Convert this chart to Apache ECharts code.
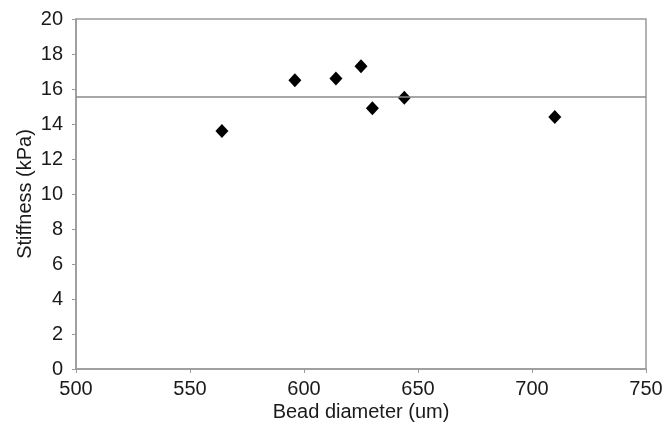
<!DOCTYPE html>
<html>
<head>
<meta charset="utf-8">
<script src="https://cdn.jsdelivr.net/npm/echarts@6/dist/echarts.min.js"></script>
<style>
html,body{margin:0;padding:0;background:#fff;}
#chart{width:664px;height:424px;}
</style>
</head>
<body>
<div id="chart"></div>
<script>
const beadDiameter = [564, 596, 614, 625, 630, 644, 710];
const stiffness = [13.6, 16.5, 16.6, 17.3, 14.9, 15.5, 14.4];
const meanStiffness = 15.55;
const xTicks = [500, 550, 600, 650, 700, 750];
const yTicks = [0, 2, 4, 6, 8, 10, 12, 14, 16, 18, 20];

const font = '"Liberation Sans", Arial, sans-serif';
const chart = echarts.init(document.getElementById('chart'), null, {renderer: 'canvas'});
chart.setOption({
  animation: false,
  backgroundColor: '#fff',
  grid: {left: 76, right: 18, top: 19, bottom: 55, containLabel: false, outerBoundsMode: 'none',
         show: true, borderColor: '#9a9a9a', borderWidth: 1.5},
  xAxis: {
    type: 'value', min: xTicks[0], max: xTicks[xTicks.length - 1], interval: 50,
    name: 'Bead diameter (um)', nameLocation: 'middle', nameGap: 33, nameMoveOverlap: false,
    nameTextStyle: {fontFamily: font, fontSize: 20, color: '#1a1a1a'},
    axisLine: {show: true, lineStyle: {color: '#9a9a9a', width: 1.5}},
    axisTick: {show: true, inside: false, length: 4, lineStyle: {color: '#9a9a9a'}},
    axisLabel: {fontFamily: font, fontSize: 20, color: '#1a1a1a', margin: 10},
    splitLine: {show: false}
  },
  yAxis: {
    type: 'value', min: yTicks[0], max: yTicks[yTicks.length - 1], interval: 2,
    name: 'Stiffness (kPa)', nameLocation: 'middle', nameGap: 41, nameMoveOverlap: false,
    nameTextStyle: {fontFamily: font, fontSize: 20, color: '#1a1a1a'},
    axisLine: {show: true, lineStyle: {color: '#9a9a9a', width: 1.5}},
    axisTick: {show: true, inside: false, length: 4, lineStyle: {color: '#9a9a9a'}},
    axisLabel: {fontFamily: font, fontSize: 20, color: '#1a1a1a', margin: 13},
    splitLine: {show: false}
  },
  series: [{
    type: 'scatter',
    data: beadDiameter.map((x, i) => [x, stiffness[i]]),
    symbol: 'diamond',
    symbolSize: [13, 14],
    itemStyle: {color: '#000', opacity: 1},
    markLine: {
      silent: true,
      symbol: ['none', 'none'],
      label: {show: false},
      lineStyle: {color: '#8a8a8a', width: 1.5, type: 'solid'},
      data: [{yAxis: meanStiffness}]
    }
  }]
});
</script>
</body>
</html>
